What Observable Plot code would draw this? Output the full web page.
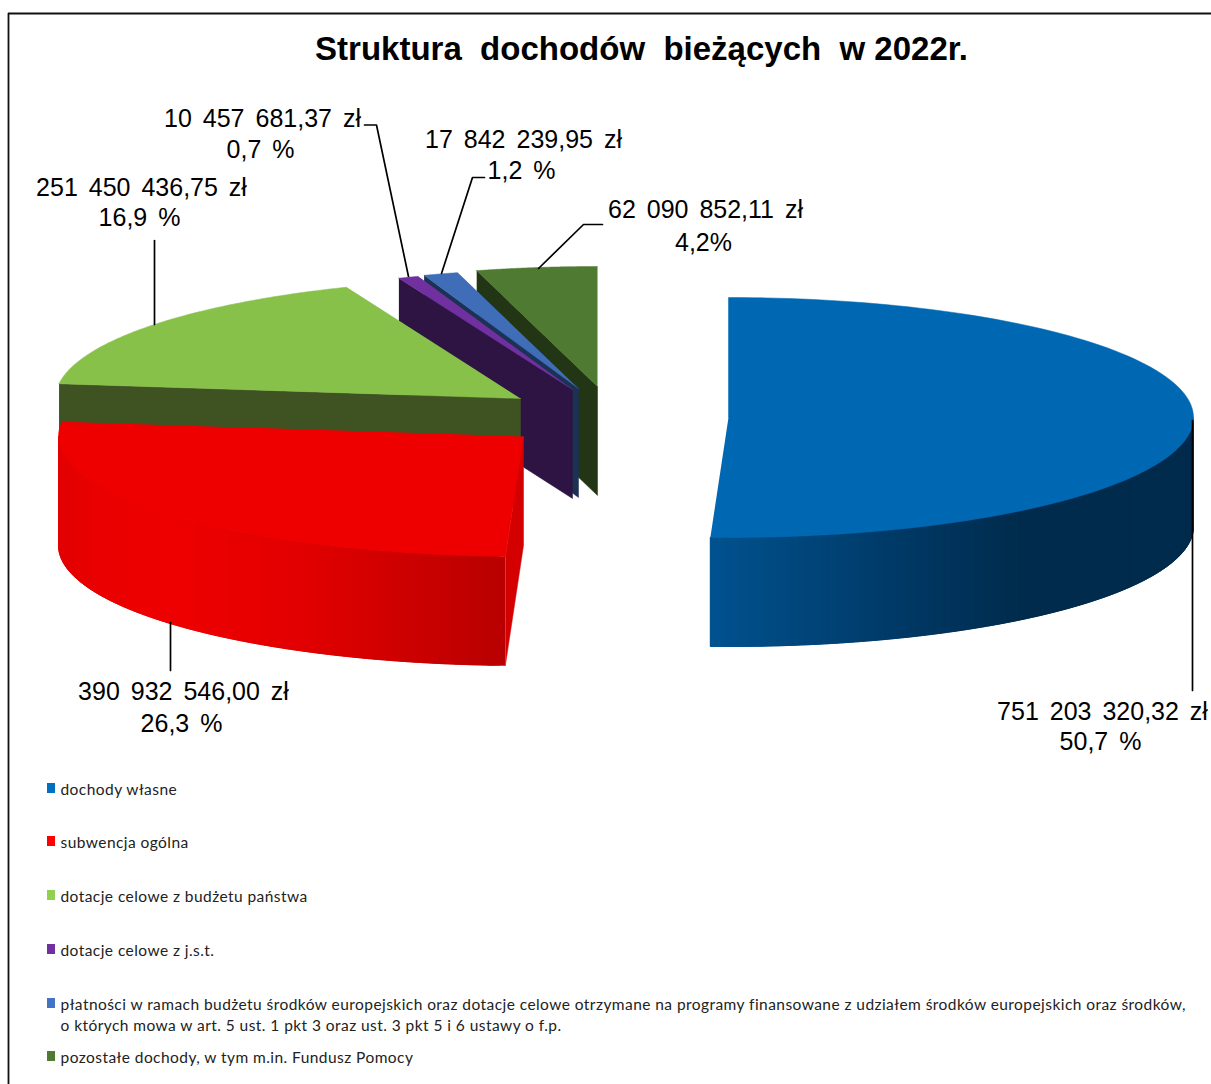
<!DOCTYPE html>
<html lang="pl">
<head>
<meta charset="utf-8">
<script src="https://cdn.jsdelivr.net/npm/d3@7"></script>
<script src="https://cdn.jsdelivr.net/npm/@observablehq/plot@0.6"></script>
<style>
html,body{margin:0;padding:0;background:#fff;overflow:hidden}
svg{display:block}
</style>
</head>
<body>
<div id="chart"></div>
<script>
const titleText = "Struktura  dochodów  bieżących  w 2022r.";
const categories = [
  "dochody własne",
  "subwencja ogólna",
  "dotacje celowe z budżetu państwa",
  "dotacje celowe z j.s.t.",
  "płatności w ramach budżetu środków europejskich oraz dotacje celowe otrzymane na programy finansowane z udziałem środków europejskich oraz środków,\no których mowa w art. 5 ust. 1 pkt 3 oraz ust. 3 pkt 5 i 6 ustawy o f.p.",
  "pozostałe dochody, w tym m.in. Fundusz Pomocy"
];
const values = [751203320.32, 390932546.00, 251450436.75, 10457681.37, 17842239.95, 62090852.11];
const amountLabels = ["751 203 320,32 zł","390 932 546,00 zł","251 450 436,75 zł","10 457 681,37 zł","17 842 239,95 zł","62 090 852,11 zł"];
const percentLabels = ["50,7 %","26,3 %","16,9 %","0,7 %","1,2 %","4,2%"];
const topColors  = ["#0068b3","#ee0000","#88c14a","#7030a0","#3f6db8","#4f7a31"];
const swatchColors = ["#0070c0","#ff0000","#92d050","#7030a0","#4472c4","#4f7a31"];
const faceColors = [null,"#d40000","#3f5222","#2d1442","#1c3255","#223514"];
// exploded centres of each slice
const centerX = [728,523,520,572,578,597];
const centerY = [417,436,398,389,388,386];
const radiusX = 465, radiusY = 120, depth = 109;
// lit side of the rim, by horizontal position
const rimStops = [
  [[710,"#00528f"],[890,"#003a68"],[1023,"#002b4c"],[1193,"#002b4c"]],
  [[59,"#e20000"],[100,"#ea0000"],[170,"#ee0000"],[300,"#e20000"],[390,"#d00000"],[440,"#c60000"],[505,"#b80000"]]
];
const labelX = [1102,183,141,262,523,705];
const labelY = [711,691,187,118,139,209];
const labelLine = [30,32,30,31,31,33];
const legendY = [789,842,896,950,1004,1057];
const leaders = [
  [[1192,420],[1192,690]],
  [[170,622],[170,670]],
  [[154,240],[154,324]],
  [[364,124.5],[376,124.5],[408,276]],
  [[484,177],[472,177],[441,273]],
  [[602,224],[583,224],[538,268]]
];

const total = d3.sum(values);
const cum = d3.cumsum(values).map(v => v / total * 2 * Math.PI);
const startA = i => i ? cum[i-1] : 0;
const endA = i => cum[i];
const pt = (i, a, dz = 0) => [centerX[i] + radiusX * Math.sin(a), centerY[i] - radiusY * Math.cos(a) + dz];

const rows = [];
let zid = 0;
const poly = (points, color) => { const z = zid++; points.forEach(([x,y]) => rows.push({x,y,z,color})); };

// painter's order: far slices first
[5,4,3,2,1,0].forEach(i => {
  const a0 = startA(i), a1 = endA(i), c = [centerX[i],centerY[i]];
  if (faceColors[i]) {
    poly([pt(i,a0), c, [c[0],c[1]+depth], pt(i,a0,depth)], faceColors[i]);
  }
  if (rimStops[i]) {
    const col = d3.scaleLinear().domain(rimStops[i].map(d=>d[0])).range(rimStops[i].map(d=>d[1])).clamp(true);
    const from = Math.max(a0, Math.PI/2), to = Math.min(a1, 1.5*Math.PI);
    const n = Math.ceil((to-from)/0.012);
    for (let k=0;k<n;k++){
      // each strip reaches past the next one, so no seam shows between them
      const u = from+(to-from)*k/n, v = from+(to-from)*Math.min(k+3,n)/n;
      const mid = from+(to-from)*(k+0.5)/n;
      poly([pt(i,u),pt(i,mid),pt(i,v),pt(i,v,depth),pt(i,mid,depth),pt(i,u,depth)], col(pt(i,mid)[0]));
    }
  }
  const arc = d3.range(0,121).map(k => pt(i, a0+(a1-a0)*k/120));
  poly([c,...arc], topColors[i]);
});

const labelRows = values.map((v,i)=>({x:labelX[i],y:labelY[i],t:amountLabels[i]}))
  .concat(values.map((v,i)=>({x:labelX[i]-2,y:labelY[i]+labelLine[i],t:percentLabels[i]})));
const leaderRows = leaders.flatMap((l,z)=>l.map(([x,y])=>({x,y,z})));
const legendRows = categories.map((t,i)=>({t,y:legendY[i],color:swatchColors[i]}));

// spacing that Plot.text has no option for
const spaced = css => function(index, scales, vals, dims, context, next) {
  const g = next(index, scales, vals, dims, context);
  g.setAttribute("style", css);
  return g;
};

const plot = Plot.plot({
  width:1211, height:1084, margin:0,
  x:{domain:[0,1211],range:[0,1211],axis:null},
  y:{domain:[0,1084],range:[0,1084],axis:null},
  color:{type:"identity"},
  style:{background:"#fff"},
  marks:[
    Plot.ruleY([13],{x1:8,x2:1211,stroke:"#111",strokeWidth:1.8}),
    Plot.ruleX([8],{y1:13,y2:1084,stroke:"#111",strokeWidth:1.8}),
    Plot.text([titleText],{x:641,y:49,text:d=>d,fontFamily:"Liberation Sans",fontWeight:"bold",fontSize:33,fill:"#000"}),
    Plot.line(rows,{x:"x",y:"y",z:"z",fill:"color",stroke:"color",strokeWidth:0.5}),
    Plot.line(leaderRows,{x:"x",y:"y",z:"z",stroke:"#000",strokeWidth:1.7}),
    Plot.text(labelRows,{x:"x",y:"y",text:"t",fontFamily:"Liberation Sans",fontSize:25,fill:"#000",render:spaced("word-spacing:4px")}),
    Plot.rect(legendRows,{x1:47,x2:55,y1:d=>d.y-6,y2:d=>d.y+4,fill:"color"}),
    Plot.text(legendRows,{x:60,y:d=>d.y-9,text:"t",textAnchor:"start",lineAnchor:"top",lineHeight:1.355,fontFamily:"Lato",fontSize:15.5,fill:"#222",render:spaced("letter-spacing:0.44px")})
  ]
});
document.getElementById("chart").appendChild(plot);
</script>
</body>
</html>
